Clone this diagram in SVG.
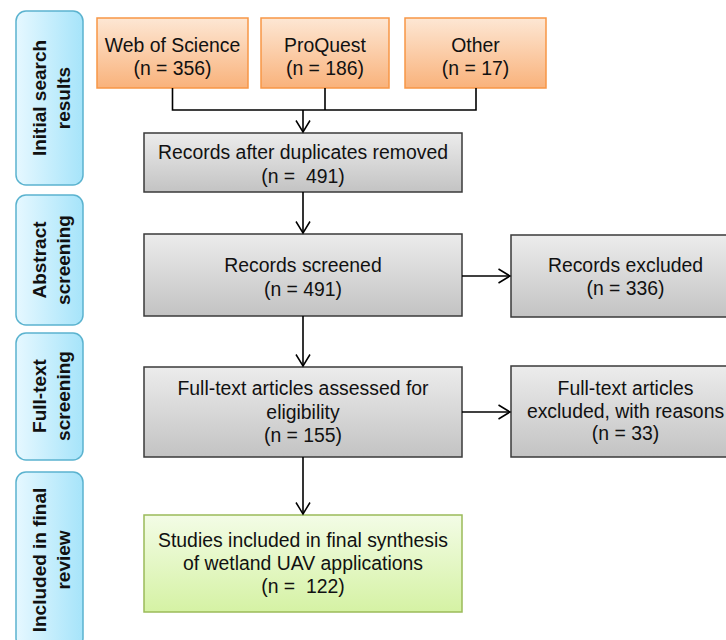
<svg xmlns="http://www.w3.org/2000/svg" width="726" height="640" viewBox="0 0 726 640">
<defs>
<linearGradient id="gSide" x1="0" y1="0" x2="1" y2="0"><stop offset="0" stop-color="#e6f8ff"/><stop offset="1" stop-color="#a6e4fa"/></linearGradient>
<linearGradient id="gOrange" x1="0" y1="0" x2="0" y2="1"><stop offset="0" stop-color="#fde7d4"/><stop offset="1" stop-color="#f9b27b"/></linearGradient>
<linearGradient id="gGray" x1="0" y1="0" x2="0" y2="1"><stop offset="0" stop-color="#ececec"/><stop offset="1" stop-color="#c3c3c3"/></linearGradient>
<linearGradient id="gGreen" x1="0" y1="0" x2="0" y2="1"><stop offset="0" stop-color="#f3fce6"/><stop offset="1" stop-color="#d5f2a4"/></linearGradient>
<marker id="arr" viewBox="0 0 14 16" refX="12.5" refY="8" markerWidth="14" markerHeight="16" markerUnits="userSpaceOnUse" orient="auto">
<path d="M1,1 L12.5,8 L1,15" fill="none" stroke="#000" stroke-width="1.5"/>
</marker>
</defs>
<style>
.side{fill:url(#gSide);stroke:#5bb3cf;stroke-width:1.5}
.org{fill:url(#gOrange);stroke:#f79646;stroke-width:1.5}
.gray{fill:url(#gGray);stroke:#3a3a3a;stroke-width:1.5}
.grn{fill:url(#gGreen);stroke:#9bbb59;stroke-width:1.5}
.t{font-family:"Liberation Sans",Arial,sans-serif;font-size:19.4px;fill:#111;text-anchor:middle}
.st{font-family:"Liberation Sans",Arial,sans-serif;font-size:19px;font-weight:bold;fill:#111;text-anchor:middle}
.c{fill:none;stroke:#000;stroke-width:1.6}
</style>

<g id="side1"><rect class="side" x="16" y="11" width="67" height="174" rx="10"/>
<text class="st" transform="translate(0,98) rotate(-90)"><tspan x="0" y="46">Initial search</tspan><tspan x="0" y="69.5">results</tspan></text></g>
<g id="side2"><rect class="side" x="16" y="195" width="67" height="130" rx="10"/>
<text class="st" transform="translate(0,260) rotate(-90)"><tspan x="0" y="46">Abstract</tspan><tspan x="0" y="69.5">screening</tspan></text></g>
<g id="side3"><rect class="side" x="16" y="333" width="67" height="127" rx="10"/>
<text class="st" transform="translate(0,396) rotate(-90)"><tspan x="0" y="46">Full-text</tspan><tspan x="0" y="69.5">screening</tspan></text></g>
<g id="side4"><rect class="side" x="16" y="472" width="67" height="176" rx="10"/>
<text class="st" transform="translate(0,560) rotate(-90)"><tspan x="0" y="46">Included in final</tspan><tspan x="0" y="69.5">review</tspan></text></g>

<g id="wos"><rect class="org" x="97" y="18" width="151" height="70"/>
<text class="t"><tspan x="172.5" y="52">Web of Science</tspan><tspan x="172.5" y="75">(n = 356)</tspan></text></g>
<g id="proquest"><rect class="org" x="261" y="18" width="128" height="70"/>
<text class="t"><tspan x="325" y="52">ProQuest</tspan><tspan x="325" y="75">(n = 186)</tspan></text></g>
<g id="other"><rect class="org" x="405" y="18" width="141" height="70"/>
<text class="t"><tspan x="475.5" y="52">Other</tspan><tspan x="475.5" y="75">(n = 17)</tspan></text></g>

<g id="dedup"><rect class="gray" x="144" y="133" width="318" height="59"/>
<text class="t"><tspan x="303" y="159">Records after duplicates removed</tspan><tspan x="303" y="183" xml:space="preserve">(n =  491)</tspan></text></g>
<g id="screened"><rect class="gray" x="144" y="234" width="318" height="82"/>
<text class="t"><tspan x="303" y="272">Records screened</tspan><tspan x="303" y="296">(n = 491)</tspan></text></g>
<g id="excluded"><rect class="gray" x="511" y="235" width="229" height="82"/>
<text class="t"><tspan x="625.5" y="272">Records excluded</tspan><tspan x="625.5" y="295">(n = 336)</tspan></text></g>
<g id="assessed"><rect class="gray" x="144" y="367" width="318" height="90"/>
<text class="t"><tspan x="303" y="395">Full-text articles assessed for</tspan><tspan x="303" y="418.5">eligibility</tspan><tspan x="303" y="442">(n = 155)</tspan></text></g>
<g id="ftexcluded"><rect class="gray" x="511" y="366" width="229" height="91"/>
<text class="t"><tspan x="625.5" y="395">Full-text articles</tspan><tspan x="625.5" y="417.5">excluded, with reasons</tspan><tspan x="625.5" y="440">(n = 33)</tspan></text></g>
<g id="included"><rect class="grn" x="144" y="515" width="318" height="97"/>
<text class="t"><tspan x="303" y="547">Studies included in final synthesis</tspan><tspan x="303" y="570">of wetland UAV applications</tspan><tspan x="303" y="593" xml:space="preserve">(n =  122)</tspan></text></g>

<g id="connectors">
<path class="c" d="M172.5,88 V110 H476 V88 M325,88 V110"/>
<path class="c" d="M303,110 V132" marker-end="url(#arr)"/>
<path class="c" d="M303,192 V233" marker-end="url(#arr)"/>
<path class="c" d="M303,316 V366" marker-end="url(#arr)"/>
<path class="c" d="M303,457 V514" marker-end="url(#arr)"/>
<path class="c" d="M462,276 H510" marker-end="url(#arr)"/>
<path class="c" d="M462,412 H510" marker-end="url(#arr)"/>
</g>
</svg>
